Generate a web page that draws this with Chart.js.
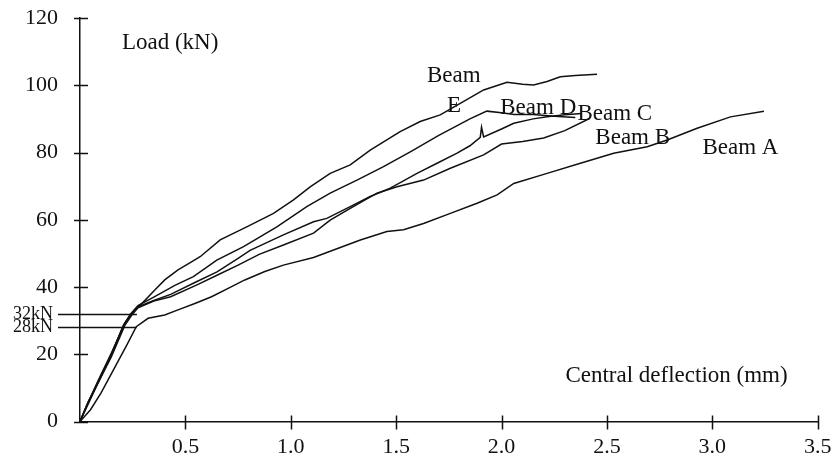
<!DOCTYPE html>
<html>
<head>
<meta charset="utf-8">
<script src="https://cdn.jsdelivr.net/npm/chart.js@4.4.1/dist/chart.umd.min.js"></script>
<style>
  html, body { margin: 0; padding: 0; background: #ffffff; }
  #wrap { width: 832px; height: 459px; }
</style>
</head>
<body>
<div id="wrap"><canvas id="c" width="832" height="459"></canvas></div>
<script>
// Load–deflection curves of five beams: central deflection (mm) vs load (kN)
const deflA = [0, 0.05, 0.1, 0.16, 0.22, 0.267, 0.323, 0.402, 0.465, 0.545, 0.624, 0.703, 0.782, 0.877, 0.965, 1.108, 1.203, 1.330, 1.456, 1.535, 1.630, 1.757, 1.884, 1.979, 2.058, 2.216, 2.374, 2.532, 2.691, 2.786, 2.928, 3.086, 3.245];
const loadA = [0, 3.5, 8.5, 15.5, 22.5, 28.2, 30.7, 31.7, 33.2, 35.1, 37.1, 39.6, 42.1, 44.6, 46.5, 48.8, 51.0, 54.0, 56.5, 57.0, 58.9, 61.9, 64.9, 67.4, 70.8, 73.8, 76.8, 79.8, 81.7, 83.7, 87.2, 90.6, 92.3];

const deflB = [0, 0.03, 0.085, 0.149, 0.212, 0.244, 0.275, 0.35, 0.43, 0.55, 0.65, 0.75, 0.85, 0.965, 1.108, 1.187, 1.282, 1.409, 1.504, 1.630, 1.757, 1.915, 2.0, 2.1, 2.2, 2.3, 2.42];
const loadB = [0, 4, 11.4, 19.3, 28.5, 31.5, 33.8, 35.8, 37.1, 40.5, 43.5, 46.5, 49.7, 52.5, 56.0, 59.9, 63.4, 67.9, 69.8, 71.8, 75.3, 79.3, 82.5, 83.3, 84.3, 86.5, 90.2];

const deflC = [0, 0.04, 0.09, 0.15, 0.21, 0.245, 0.28, 0.35, 0.43, 0.55, 0.65, 0.75, 0.807, 0.965, 1.108, 1.171, 1.282, 1.377, 1.472, 1.599, 1.694, 1.789, 1.85, 1.899, 1.905, 1.915, 2.0, 2.058, 2.15, 2.216, 2.3, 2.38];
const loadC = [0, 6, 12, 20, 29, 32.2, 34.2, 36, 37.8, 41.5, 44.5, 48.5, 50.9, 55.5, 59.4, 60.4, 63.9, 66.9, 69.4, 73.8, 76.8, 79.8, 82, 84.5, 87.5, 84.6, 87.0, 88.7, 90.0, 90.6, 91.2, 91.6];

const deflD = [0, 0.035, 0.08, 0.145, 0.205, 0.24, 0.275, 0.35, 0.45, 0.538, 0.649, 0.776, 0.934, 1.076, 1.187, 1.314, 1.440, 1.567, 1.70, 1.85, 1.93, 2.0, 2.06, 2.15, 2.25, 2.35];
const loadD = [0, 5, 11, 19.5, 28.5, 32, 34.5, 37, 40.5, 43.1, 48.0, 52.0, 57.9, 63.9, 67.9, 71.8, 75.8, 80.2, 85, 90, 92.3, 91.8, 91.3, 91.3, 90.8, 90.4];

const deflE = [0, 0.03, 0.085, 0.15, 0.215, 0.25, 0.3, 0.355, 0.402, 0.465, 0.529, 0.570, 0.665, 0.791, 0.918, 1.013, 1.092, 1.187, 1.282, 1.377, 1.519, 1.614, 1.709, 1.804, 1.915, 2.026, 2.1, 2.152, 2.216, 2.279, 2.35, 2.453];
const loadE = [0, 4.5, 12, 20.5, 29.5, 32.5, 35.5, 39.1, 42.1, 45.1, 47.5, 49.0, 54.0, 57.9, 61.9, 65.9, 69.8, 73.8, 76.3, 80.7, 86.2, 89.2, 91.2, 94.6, 98.6, 100.9, 100.3, 100.1, 101.1, 102.5, 102.9, 103.3];

// Axis ticks
const xTicks = [0.5, 1.0, 1.5, 2.0, 2.5, 3.0, 3.5];
const yTicks = [0, 20, 40, 60, 80, 100, 120];

// Cracking loads marked on the load axis, and the deflection where each marker meets the curves
const crackLoads = [32, 28];
const crackDefl = [0.27, 0.269];

// Text notes placed in data coordinates (left edge, baseline)
const noteText = ['Load (kN)', 'Central deflection (mm)', 'Beam', 'E', 'Beam D', 'Beam C', 'Beam B', 'Beam A'];
const noteX = [0.199, 2.303, 1.646, 1.741, 1.994, 2.360, 2.445, 2.953];
const noteY = [110.7, 11.83, 101.05, 92.1, 91.35, 89.6, 82.5, 79.46];

const seriesNames = ['Beam A', 'Beam B', 'Beam C', 'Beam D', 'Beam E'];
const seriesDefl = [deflA, deflB, deflC, deflD, deflE];
const seriesLoad = [loadA, loadB, loadC, loadD, loadE];

const SERIF = '"Liberation Serif", "Times New Roman", serif';
const INK = '#111111';

const datasets = seriesNames.map((name, i) => ({
  label: name,
  data: seriesDefl[i].map((d, j) => ({ x: d, y: seriesLoad[i][j] })),
  showLine: true,
  borderColor: INK,
  borderWidth: 1.5,
  pointRadius: 0,
  tension: 0,
  fill: false
}));

// Tick marks crossing both axes, cracking-load markers and text notes
const decorations = {
  id: 'decorations',
  afterDatasetsDraw(chart) {
    const { ctx, chartArea, scales: { x, y } } = chart;
    ctx.save();
    ctx.strokeStyle = INK;
    ctx.lineWidth = 1.5;
    ctx.beginPath();
    yTicks.forEach(v => {
      const py = Math.round(y.getPixelForValue(v)) + 0.5;
      ctx.moveTo(chartArea.left - 6, py);
      ctx.lineTo(chartArea.left + 8, py);
    });
    xTicks.forEach(v => {
      const px = Math.round(x.getPixelForValue(v)) + 0.5;
      ctx.moveTo(px, chartArea.bottom - 6);
      ctx.lineTo(px, chartArea.bottom + 8);
    });
    ctx.stroke();

    // cracking-load markers
    ctx.font = '18px ' + SERIF;
    ctx.fillStyle = INK;
    ctx.textAlign = 'right';
    ctx.textBaseline = 'alphabetic';
    crackLoads.forEach((load, i) => {
      const py = Math.round(y.getPixelForValue(load)) + 0.5;
      ctx.beginPath();
      ctx.moveTo(chartArea.left - 22, py);
      ctx.lineTo(x.getPixelForValue(crackDefl[i]), py);
      ctx.stroke();
      ctx.fillText(load + 'kN', chartArea.left - 27, py + 4);
    });

    // notes
    ctx.font = '23px ' + SERIF;
    ctx.textAlign = 'left';
    noteText.forEach((t, i) => {
      ctx.fillText(t, x.getPixelForValue(noteX[i]), y.getPixelForValue(noteY[i]));
    });
    ctx.restore();
  }
};

new Chart(document.getElementById('c'), {
  type: 'scatter',
  data: { datasets },
  options: {
    responsive: false,
    devicePixelRatio: 1,
    animation: false,
    layout: { padding: 0 },
    plugins: { legend: { display: false }, tooltip: { enabled: false } },
    scales: {
      x: {
        type: 'linear',
        min: 0,
        max: 3.5,
        afterBuildTicks: s => { s.ticks = xTicks.map(v => ({ value: v })); },
        afterFit: s => { s.height = 37.5; s.paddingLeft = 0; s.paddingRight = 14.3; },
        ticks: {
          callback: v => v.toFixed(1),
          font: { family: SERIF, size: 22 },
          color: INK,
          padding: 12.8,
          maxRotation: 0,
          autoSkip: false
        },
        grid: { display: false, drawTicks: false },
        border: { display: true, color: INK, width: 1.5 }
      },
      y: {
        type: 'linear',
        min: 0,
        max: 120,
        afterBuildTicks: s => { s.ticks = yTicks.map(v => ({ value: v })); },
        afterFit: s => { s.width = 80; s.paddingTop = 18; s.paddingBottom = 0; },
        ticks: {
          callback: v => String(v),
          font: { family: SERIF, size: 22 },
          color: INK,
          padding: 22,
          autoSkip: false
        },
        grid: { display: false, drawTicks: false },
        border: { display: true, color: INK, width: 1.5 }
      }
    }
  },
  plugins: [decorations]
});
</script>
</body>
</html>
